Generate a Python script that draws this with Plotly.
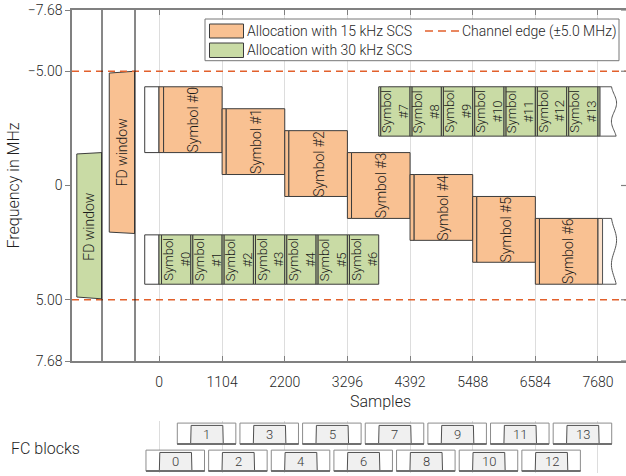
import numpy as np
import plotly.graph_objects as go

W, H = 626, 476
ML, MR, MT, MB = 72, 0, 10, 3
PW, PH = W - ML - MR, H - MT - MB

FONT = "Roboto, sans-serif"
FW = 300
TXT = "#1f1f1f"
AX = "#808080"
ORANGE = "#F9C192"
ORANGE_CP_NEXT = "#FCE2CC"
GREEN = "#C9DBA5"
EDGE_RED = "#E2602C"
BOX_LINE = "#3c3c3c"

# ---- axis ticks ----
x_ticks = [0, 1104, 2200, 3296, 4392, 5488, 6584, 7680]
y_ticks = [-7.68, -5.0, 0.0, 5.0, 7.68]
y_tick_text = ["−7.68", "−5.00", "0", "5.00", "7.68"]
x_range = [-420, 8170]

# ---- 15 kHz SCS symbols (samples / MHz) ----
sym15_start = [0, 1104, 2200, 3296, 4392, 5488, 6584]
sym15_len = [1104, 1096, 1096, 1096, 1096, 1096, 1096]
sym15_cp = [80, 72, 72, 72, 72, 72, 72]
sym15_f_lo = [-4.32, -3.36, -2.40, -1.44, -0.48, 0.48, 1.44]
sym15_f_hi = [-1.44, -0.48, 0.48, 1.44, 2.40, 3.36, 4.32]

# ---- 30 kHz SCS symbols ----
sym30_start = [0, 556, 1104, 1652, 2200, 2748, 3296,
               3844, 4392, 4940, 5488, 6036, 6584, 7132]
sym30_len = [556, 548, 548, 548, 548, 548, 548,
             548, 548, 548, 548, 548, 548, 548]
sym30_cp = [44, 36, 36, 36, 36, 36, 36,
            36, 36, 36, 36, 36, 36, 36]
sym30_f_lo = [2.16, 2.16, 2.16, 2.16, 2.16, 2.16, 2.16,
              -4.32, -4.32, -4.32, -4.32, -4.32, -4.32, -4.32]
sym30_f_hi = [4.32, 4.32, 4.32, 4.32, 4.32, 4.32, 4.32,
              -2.16, -2.16, -2.16, -2.16, -2.16, -2.16, -2.16]

# neighbouring slots
prev_tail = 250          # samples of previous slot shown before 0
slot_end = 7680
next15_cp = 80
next30_cp = 36
next_cut = 7960          # where the next slot is cut off (wavy edge)

# channel edges
channel_edge = [-5.0, 5.0]

# FD windows: [lo, hi] at left and right side of each panel
fd15_left = [-4.92, 2.04]
fd15_right = [-5.00, 2.10]
fd30_left = [-1.38, 4.88]
fd30_right = [-1.44, 4.96]

# FC blocks
fc_start = [-228, 320, 868, 1416, 1964, 2512, 3060,
            3608, 4156, 4704, 5252, 5800, 6348, 6896]
fc_len = 1024
fc_label = [str(i) for i in range(14)]


def px_x(p):
    return (p - ML) / PW


def px_y(p):
    return (H - MB - p) / PH


def fnt(size, color="#1a1a1a"):
    return dict(size=size, color=color, family=FONT, weight=FW)


shapes = []
annots = []


def rect(x0, x1, y0, y1, fill, line=BOX_LINE, lw=1, xref="x", yref="y"):
    shapes.append(dict(type="rect", xref=xref, yref=yref, x0=x0, x1=x1,
                       y0=y0, y1=y1, fillcolor=fill,
                       line=dict(color=line, width=lw)))


def wavy_box(xs, lo, hi, fill="white"):
    t = np.linspace(0, 1, 40)
    xw = next_cut + 45 * np.sin(2 * np.pi * (t - 0.145) / 0.74)
    yy = lo + (hi - lo) * t
    d = f"M{xs},{lo} L{xw[0]:.1f},{lo} "
    d += " ".join(f"L{a:.1f},{b:.3f}" for a, b in zip(xw, yy))
    d += f" L{xs},{hi} Z"
    shapes.append(dict(type="path", xref="x", yref="y", path=d,
                       fillcolor=fill, line=dict(color="#555555", width=1)))


def label(x, y, text, size, xref, yref, xanchor="center", angle=0, color="#1a1a1a"):
    annots.append(dict(x=x, y=y, xref=xref, yref=yref, text=text, textangle=angle,
                       xanchor=xanchor, yanchor="middle", showarrow=False,
                       font=fnt(size, color)))


# previous slot tails
rect(-prev_tail, 0, sym15_f_lo[0], sym15_f_hi[0], "white")
rect(-prev_tail, 0, sym30_f_lo[0], sym30_f_hi[0], "white")

# 15 kHz symbols
for k in range(len(sym15_start)):
    s, n, cp = sym15_start[k], sym15_len[k], sym15_cp[k]
    lo, hi = sym15_f_lo[k], sym15_f_hi[k]
    rect(s, s + cp, lo, hi, ORANGE)
    rect(s + cp, s + n, lo, hi, ORANGE)
    label(s + cp + (n - cp) / 2, (lo + hi) / 2, f"Symbol #{k}", 14, "x", "y", angle=-90)

# 30 kHz symbols
for k in range(len(sym30_start)):
    s, n, cp = sym30_start[k], sym30_len[k], sym30_cp[k]
    lo, hi = sym30_f_lo[k], sym30_f_hi[k]
    rect(s, s + cp, lo, hi, GREEN)
    rect(s + cp, s + n, lo, hi, GREEN)
    label(s + cp + (n - cp) / 2, (lo + hi) / 2, f"Symbol<br>#{k}", 13, "x", "y", angle=-90)

# next slot beginnings
rect(slot_end, slot_end + next15_cp, sym15_f_lo[-1], sym15_f_hi[-1], ORANGE_CP_NEXT)
wavy_box(slot_end + next15_cp, sym15_f_lo[-1], sym15_f_hi[-1])
rect(slot_end, slot_end + next30_cp, sym30_f_lo[-1], sym30_f_hi[-1], GREEN)
wavy_box(slot_end + next30_cp, sym30_f_lo[-1], sym30_f_hi[-1])

# channel edges
for ce in channel_edge:
    shapes.append(dict(type="line", xref="paper", yref="y", x0=0, x1=1, y0=ce, y1=ce,
                       line=dict(color=EDGE_RED, width=1.5, dash="7px,5px")))

# panel separators
for p in (102, 135):
    shapes.append(dict(type="line", xref="paper", yref="paper", x0=px_x(p), x1=px_x(p),
                       y0=px_y(361), y1=1, line=dict(color="#111111", width=1)))

# right-hand mirror ticks
for yt in y_ticks:
    shapes.append(dict(type="line", xref="paper", yref="y", x0=px_x(621), x1=1,
                       y0=yt, y1=yt, line=dict(color=AX, width=1.2)))

# FC blocks (on the lower helper axis y2)
for k, s in enumerate(fc_start):
    if k % 2 == 0:
        b0, b1 = 0.04, 0.44
    else:
        b0, b1 = 0.56, 0.96
    top_in = b1 - 0.045
    i0, i1 = s + 234, s + 234 + 570
    shapes.append(dict(type="rect", xref="x", yref="y2", x0=s, x1=s + fc_len, y0=b0, y1=b1,
                       fillcolor="white", line=dict(color="#8c8c8c", width=1)))
    d = (f"M{s},{b0} L{i0},{b0} L{i0 + 8},{top_in} L{i1 - 8},{top_in} "
         f"L{i1},{b0} L{s + fc_len},{b0}")
    shapes.append(dict(type="path", xref="x", yref="y2", path=d + " Z",
                       fillcolor="#f0f0f0", line=dict(color="#505050", width=1)))
    shapes.append(dict(type="line", xref="x", yref="y2", x0=s, x1=s + fc_len, y0=b0, y1=b0,
                       line=dict(color="#707070", width=2)))
    label((i0 + i1) / 2, (b0 + top_in) / 2, fc_label[k], 13, "x", "y2", color="#3a3a3a")

label(px_x(9), px_y(448), "FC blocks", 16, "paper", "paper", xanchor="left", color=TXT)

# legend (drawn by hand)
shapes.append(dict(type="rect", xref="paper", yref="paper", x0=px_x(205), x1=px_x(619),
                   y0=px_y(60.7), y1=px_y(19), fillcolor="white",
                   line=dict(color="#777777", width=1)))
for (y0, y1, fc, name) in ((24, 38, ORANGE, "Allocation with 15 kHz SCS"),
                           (43, 57.5, GREEN, "Allocation with 30 kHz SCS")):
    shapes.append(dict(type="rect", xref="paper", yref="paper", x0=px_x(209.5), x1=px_x(243.5),
                       y0=px_y(y1), y1=px_y(y0), fillcolor=fc,
                       line=dict(color=BOX_LINE, width=1)))
    label(px_x(245), px_y((y0 + y1) / 2), name, 14, "paper", "paper",
          xanchor="left", color=TXT)
shapes.append(dict(type="line", xref="paper", yref="paper", x0=px_x(425), x1=px_x(459),
                   y0=px_y(31), y1=px_y(31),
                   line=dict(color=EDGE_RED, width=1.5, dash="8px,5px")))
label(px_x(460), px_y(31), "Channel edge (±5.0 MHz)", 14, "paper", "paper",
      xanchor="left", color=TXT)

fig = go.Figure()

# FD windows in the two narrow panels
fig.add_trace(go.Scatter(
    x=[0.16, 0.99, 0.99, 0.16, 0.16],
    y=[fd30_left[0], fd30_right[0], fd30_right[1], fd30_left[1], fd30_left[0]],
    xaxis="x3", yaxis="y", mode="lines", fill="toself", fillcolor=GREEN,
    line=dict(color=BOX_LINE, width=1), hoverinfo="skip", showlegend=False))
fig.add_trace(go.Scatter(
    x=[0.22, 0.99, 0.99, 0.22, 0.22],
    y=[fd15_left[0], fd15_right[0], fd15_right[1], fd15_left[1], fd15_left[0]],
    xaxis="x2", yaxis="y", mode="lines", fill="toself", fillcolor=ORANGE,
    line=dict(color=BOX_LINE, width=1), hoverinfo="skip", showlegend=False))
label(0.575, (fd30_left[0] + fd30_right[1]) / 2, "FD window", 14, "x3", "y", angle=-90)
label(0.605, (fd15_right[0] + fd15_right[1]) / 2, "FD window", 14, "x2", "y", angle=-90)

# placeholders so every subplot is laid out
fig.add_trace(go.Scatter(x=[0], y=[0], xaxis="x", yaxis="y", mode="markers",
                         marker=dict(opacity=0), hoverinfo="skip", showlegend=False))
fig.add_trace(go.Scatter(x=[0], y=[0.5], xaxis="x", yaxis="y2", mode="markers",
                         marker=dict(opacity=0), hoverinfo="skip", showlegend=False))

panel_axis = dict(range=[0, 1], showgrid=False, zeroline=False, showticklabels=False,
                  ticks="", showline=True, linecolor=AX, linewidth=1.5, mirror=True,
                  anchor="y", fixedrange=True, automargin=False)

fig.update_layout(
    width=W, height=H,
    margin=dict(l=ML, r=MR, t=MT, b=MB, pad=0, autoexpand=False),
    paper_bgcolor="white", plot_bgcolor="white",
    showlegend=False, hovermode=False,
    font=fnt(14, TXT),
    xaxis=dict(domain=[px_x(135), 1], range=x_range, anchor="y", automargin=False,
               tickvals=x_ticks, ticktext=[str(v) for v in x_ticks],
               ticks="inside", ticklen=5, tickwidth=1, tickcolor=AX,
               showline=True, linecolor=AX, linewidth=1.5, mirror="ticks",
               showgrid=True, gridcolor="#dddddd", gridwidth=1, zeroline=False,
               tickfont=fnt(14, TXT),
               ticklabelstandoff=7,
               title=dict(text="Samples", font=fnt(16, TXT), standoff=7)),
    xaxis2=dict(domain=[px_x(102), px_x(135)], **panel_axis),
    xaxis3=dict(domain=[0, px_x(102)], **panel_axis),
    yaxis=dict(domain=[px_y(361), 1], range=[7.68, -7.68], anchor="x3", automargin=False,
               tickvals=y_ticks, ticktext=y_tick_text,
               ticks="outside", ticklen=5, tickwidth=1, tickcolor=AX,
               showline=True, linecolor=AX, linewidth=1.5,
               showgrid=False, zeroline=False,
               tickfont=fnt(14, TXT),
               title=dict(text="Frequency in MHz", font=fnt(16, TXT), standoff=4)),
    yaxis2=dict(domain=[0, px_y(421)], range=[0, 1], anchor="x", visible=False,
                fixedrange=True, automargin=False),
    shapes=shapes,
    annotations=annots,
)

fig.write_html("out.html")
